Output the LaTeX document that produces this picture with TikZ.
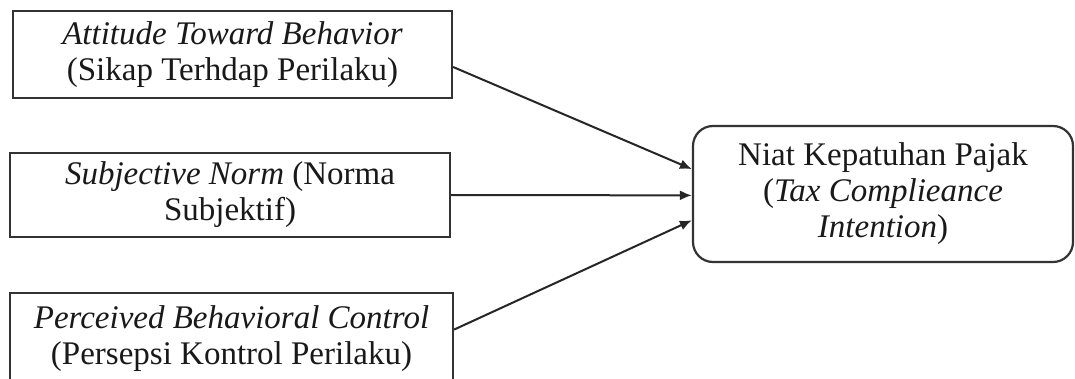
\documentclass[tikz,border=0pt]{standalone}
\usepackage{fontspec}
\setmainfont{Liberation Serif}
\usetikzlibrary{calc,arrows.meta}
\tikzset{
  box/.style={draw=black!80, line width=2.2pt, align=center, inner sep=0pt, text=black!90,
    font=\fontsize{33}{36}\selectfont},
  goal/.style={box, rounded corners=20pt},
  link/.style={draw=black!85, line width=2pt, -{Latex[length=12pt,width=10pt]}}
}
\begin{document}
\begin{tikzpicture}[x=1pt,y=-1pt]
\useasboundingbox (0,0) rectangle (1075,379);
\clip (0,0) rectangle (1075,379);
\fill[white] (0,0) rectangle (1075,379);
\node[box, minimum width=439pt, minimum height=87pt] (b1) at (232.5,54.5)
  {\textit{Attitude Toward Behavior}\\(Sikap Terhdap Perilaku)};
\node[box, minimum width=440pt, minimum height=84pt] (b2) at (230,195)
  {\textit{Subjective Norm} (Norma\\Subjektif)};
\node[box, minimum width=443pt, minimum height=92pt] (b3) at (231.5,339)
  {\textit{Perceived Behavioral Control}\\(Persepsi Kontrol Perilaku)};
\node[goal, minimum width=380pt, minimum height=136pt] (t) at (883,194)
  {Niat Kepatuhan Pajak\\(\textit{Tax Complieance}\\\textit{Intention})};
\draw[link] ($(b1.north east)!0.64!(b1.south east)$) -- ($(t.north west)!0.32!(t.south west)$);
\draw[link] (b2.east) -- ($(t.north west)!0.51!(t.south west)$);
\draw[link] ($(b3.north east)!0.40!(b3.south east)$) -- ($(t.north west)!0.69!(t.south west)$);
\end{tikzpicture}
\end{document}
